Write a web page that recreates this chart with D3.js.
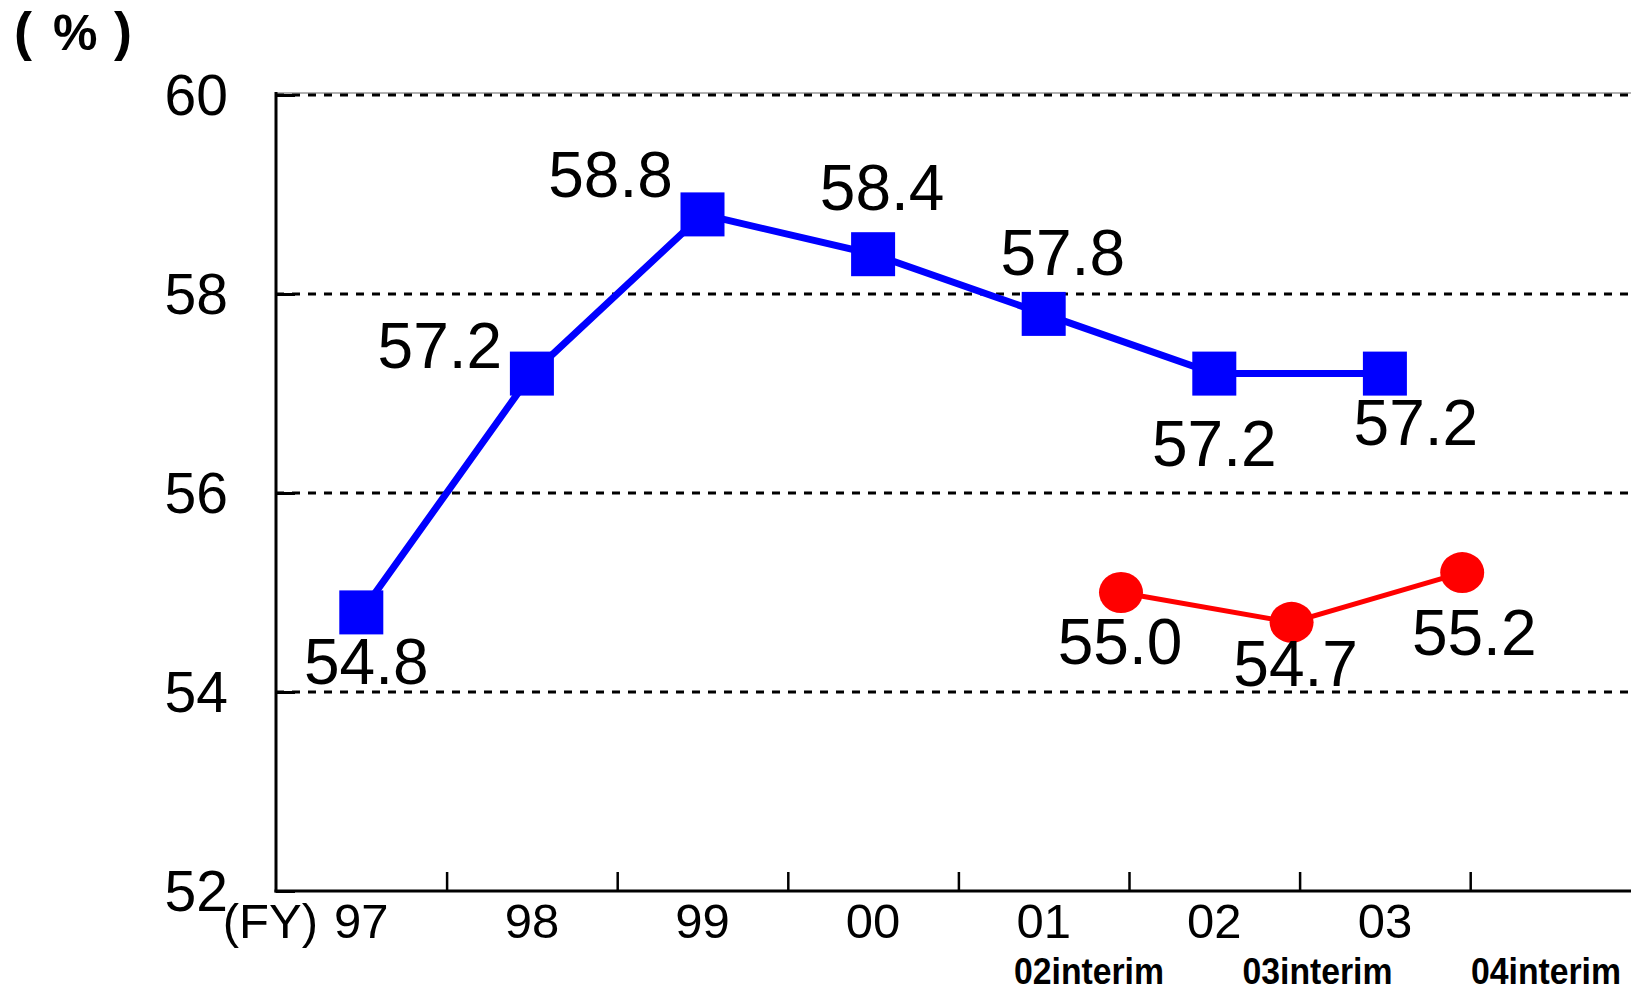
<!DOCTYPE html>
<html>
<head>
<meta charset="utf-8">
<script src="https://cdn.jsdelivr.net/npm/d3@7"></script>
<style>
  html, body { margin: 0; padding: 0; background: #fff; }
  svg { display: block; }
  text { font-family: "Liberation Sans", Arial, Helvetica, sans-serif; fill: #000; }
</style>
</head>
<body>
<svg id="chart" width="1631" height="992"></svg>
<script>
// Fiscal-year series (blue squares)
const categories = ["97", "98", "99", "00", "01", "02", "03"];
const fyValues = [54.8, 57.2, 58.8, 58.4, 57.8, 57.2, 57.2];

// Interim series (red dots)
const interimLabels = ["02interim", "03interim", "04interim"];
const interimValues = [55.0, 54.7, 55.2];

// Value axis ticks
const yTicks = [52, 54, 56, 58, 60];

// Label placement relative to each marker: [dx, dy to baseline]
const fyLabelOffsets = [[5, 72], [-92, -6], [-92, -17], [9, -44], [19, -39], [0, 92], [31, 71]];
const interimLabelOffsets = [[-1, 71], [4, 64], [12, 82]];

const svg = d3.select("#chart");

const plotLeft = 276, plotBottom = 891, plotTop = 95;
const slotCount = 8;
const step = 170.6;

// x measured in slots: category i sits at i + 0.5, slot boundaries are integers
const x = d3.scaleLinear().domain([0, slotCount]).range([plotLeft, plotLeft + slotCount * step]);
const y = d3.scaleLinear().domain([52, 60]).range([plotBottom, plotTop]);

// Top frame line
svg.append("line")
  .attr("x1", plotLeft).attr("x2", 1631)
  .attr("y1", plotTop - 2).attr("y2", plotTop - 2)
  .attr("stroke", "#9a9a9a").attr("stroke-width", 1.5);

// Dotted gridlines
svg.append("g").selectAll("line")
  .data(yTicks.filter(t => t > 52))
  .join("line")
  .attr("x1", plotLeft).attr("x2", 1631)
  .attr("y1", d => y(d)).attr("y2", d => y(d))
  .attr("stroke", "#000").attr("stroke-width", 3)
  .attr("stroke-dasharray", "8,8");

// Y axis with inward ticks
const yAxis = d3.axisLeft(y).tickValues(yTicks).tickSize(-19).tickPadding(0).tickFormat(d3.format("d"));
const gy = svg.append("g").attr("transform", `translate(${plotLeft},0)`).call(yAxis);
gy.select(".domain").attr("d", `M0,${plotTop - 3}V${plotBottom + 1.5}`).attr("stroke", "#000").attr("stroke-width", 3);
gy.selectAll(".tick line").attr("stroke", "#000").attr("stroke-width", 3);
gy.selectAll(".tick text")
  .attr("x", -48).attr("dy", "0.35em")
  .attr("text-anchor", "end")
  .attr("fill", "#000")
  .style("font-size", "57px")
  .style("font-family", '"Liberation Sans", Arial, sans-serif');

// X axis: boundary ticks pointing up, labels at slot centres
const xAxis = d3.axisBottom(x)
  .tickValues(d3.range(1, slotCount))
  .tickSize(-19)
  .tickFormat("");
const gx = svg.append("g").attr("transform", `translate(0,${plotBottom})`).call(xAxis);
gx.select(".domain").attr("d", `M${plotLeft - 1.5},0H1631`).attr("stroke", "#000").attr("stroke-width", 3);
gx.selectAll(".tick line").attr("stroke", "#000").attr("stroke-width", 2.5);

svg.append("g").selectAll("text")
  .data(categories)
  .join("text")
  .attr("x", (d, i) => x(i + 0.5))
  .attr("y", 938)
  .attr("text-anchor", "middle")
  .style("font-size", "49px")
  .text(d => d);

svg.append("text")
  .attr("x", 318).attr("y", 938)
  .attr("text-anchor", "end")
  .style("font-size", "49px")
  .text("(FY)");

// Interim labels row (condensed bold)
const xi = d3.scaleLinear().domain([0, interimLabels.length - 1]).range([1089, 1546]);
svg.append("g").selectAll("text")
  .data(interimLabels)
  .join("text")
  .attr("x", (d, i) => xi(i))
  .attr("y", 984)
  .attr("text-anchor", "middle")
  .attr("textLength", 150)
  .attr("lengthAdjust", "spacingAndGlyphs")
  .style("font-size", "36px")
  .style("font-weight", "bold")
  .text(d => d);

// Unit label
const unit = svg.append("text").attr("y", 50).style("font-weight", "bold");
unit.append("tspan").attr("x", 14).style("font-size", "54px").text("(");
unit.append("tspan").attr("x", 53).style("font-size", "50px").text("%");
unit.append("tspan").attr("x", 114).style("font-size", "54px").text(")");

// Fiscal-year line + square markers
const fyPts = fyValues.map((v, i) => ({ v, px: x(i + 0.5), py: y(v) }));
svg.append("path")
  .datum(fyPts)
  .attr("fill", "none")
  .attr("stroke", "#0000ff")
  .attr("stroke-width", 7)
  .attr("d", d3.line().x(d => d.px).y(d => d.py));

const sq = 44;
svg.append("g").selectAll("rect")
  .data(fyPts)
  .join("rect")
  .attr("x", d => d.px - sq / 2)
  .attr("y", d => d.py - sq / 2)
  .attr("width", sq).attr("height", sq)
  .attr("fill", "#0000ff");

svg.append("g").selectAll("text")
  .data(fyPts)
  .join("text")
  .attr("x", (d, i) => d.px + fyLabelOffsets[i][0])
  .attr("y", (d, i) => d.py + fyLabelOffsets[i][1])
  .attr("text-anchor", "middle")
  .style("font-size", "64px")
  .text(d => d.v.toFixed(1));

// Interim line + dot markers, placed just left of slot boundaries 5..7
const firstBoundary = slotCount - interimValues.length;
const inPts = interimValues.map((v, i) => ({ v, px: x(firstBoundary + i) - 8, py: y(v) }));
svg.append("path")
  .datum(inPts)
  .attr("fill", "none")
  .attr("stroke", "#ff0000")
  .attr("stroke-width", 5)
  .attr("d", d3.line().x(d => d.px).y(d => d.py));

svg.append("g").selectAll("ellipse")
  .data(inPts)
  .join("ellipse")
  .attr("cx", d => d.px).attr("cy", d => d.py)
  .attr("rx", 22).attr("ry", 20.5)
  .attr("fill", "#ff0000");

svg.append("g").selectAll("text")
  .data(inPts)
  .join("text")
  .attr("x", (d, i) => d.px + interimLabelOffsets[i][0])
  .attr("y", (d, i) => d.py + interimLabelOffsets[i][1])
  .attr("text-anchor", "middle")
  .style("font-size", "64px")
  .text(d => d.v.toFixed(1));
</script>
</body>
</html>
